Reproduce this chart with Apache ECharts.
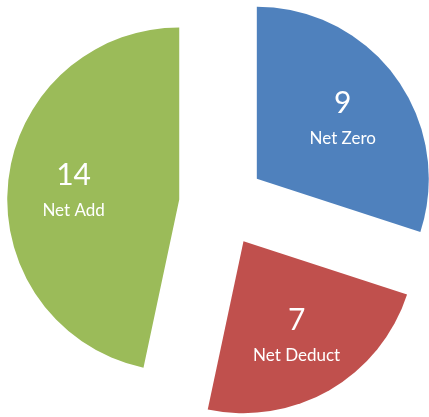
<!DOCTYPE html>
<html>
<head>
<meta charset="utf-8">
<script src="https://cdn.jsdelivr.net/npm/echarts@6/dist/echarts.min.js"></script>
<style>
  html, body { margin: 0; padding: 0; background: #fff; }
  #chart { width: 429px; height: 417px; }
</style>
</head>
<body>
<div id="chart"></div>
<script>
// slice data, clockwise from 12 o'clock
const categories = ['Net Zero', 'Net Deduct', 'Net Add'];
const values = [9, 7, 14];
const colors = ['#4F81BD', '#C0504D', '#9BBB59'];

const cx = 222, cy = 204, R = 172, explode = 43;

let chartDom = document.getElementById('chart');
let myChart = echarts.init(chartDom);

let common = {
    type: 'pie',
    center: [cx, cy],
    startAngle: 90,
    clockwise: true,
    selectedMode: 'multiple',
    selectedOffset: explode,
    emphasis: { disabled: true },
    labelLine: { show: false }
};

let option = {
    animation: false,
    series: [
        Object.assign({}, common, {
            radius: [0, R],
            label: { show: false },
            data: categories.map((c, i) => ({
                name: c, value: values[i], selected: true,
                itemStyle: { color: colors[i] }
            }))
        }),
        // invisible ring so the inside labels sit at ~60% of the radius
        Object.assign({}, common, {
            radius: [R * 0.2, R],
            silent: true,
            z: 3,
            itemStyle: { color: 'rgba(0,0,0,0)' },
            label: {
                show: true,
                position: 'inside',
                formatter: p => '{v|' + p.value + '}\n{n|' + p.name + '}',
                rich: {
                    v: { fontFamily: 'Lato', fontSize: 30, color: '#fff', lineHeight: 44 },
                    n: { fontFamily: 'Lato', fontSize: 17, color: '#fff', lineHeight: 26 }
                }
            },
            data: categories.map((c, i) => ({
                name: c, value: values[i], selected: true
            }))
        })
    ]
};
option && myChart.setOption(option);
</script>
</body>
</html>
